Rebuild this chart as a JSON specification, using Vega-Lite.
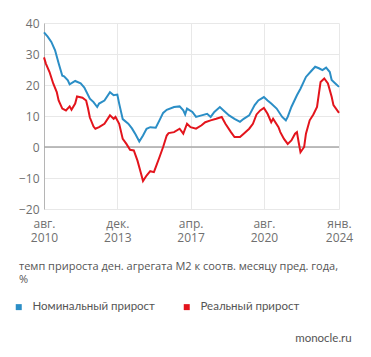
{
  "$schema": "https://vega.github.io/schema/vega-lite/v6.json",
  "autosize": {"type": "none"},
  "width": 295,
  "height": 186,
  "padding": {"left": 44, "top": 23, "right": 32, "bottom": 148},
  "background": "white",
  "config": {
    "font": "Open Sans",
    "view": {"stroke": null},
    "axis": {"labelFont": "Open Sans", "labelColor": "#6f6f6f", "labelFontSize": 12, "gridColor": "#e8e8e8", "gridWidth": 1, "ticks": false, "labelOverlap": false}
  },
  "title": {"text": "monocle.ru", "orient": "bottom", "anchor": "end", "fontSize": 11.5, "fontWeight": "normal", "color": "#555", "font": "Lato", "dx": -1, "offset": 20},
  "datasets": {
    "m2": [
      {"date": "2010-08-01", "series": "Номинальный прирост", "value": 37.0},
      {"date": "2010-10-01", "series": "Номинальный прирост", "value": 35.6},
      {"date": "2010-12-01", "series": "Номинальный прирост", "value": 33.9},
      {"date": "2011-02-01", "series": "Номинальный прирост", "value": 31.2},
      {"date": "2011-04-01", "series": "Номинальный прирост", "value": 27.0},
      {"date": "2011-06-01", "series": "Номинальный прирост", "value": 23.0},
      {"date": "2011-07-01", "series": "Номинальный прирост", "value": 22.8},
      {"date": "2011-09-01", "series": "Номинальный прирост", "value": 21.5},
      {"date": "2011-10-01", "series": "Номинальный прирост", "value": 20.2},
      {"date": "2012-01-01", "series": "Номинальный прирост", "value": 21.3},
      {"date": "2012-04-01", "series": "Номинальный прирост", "value": 20.5},
      {"date": "2012-06-01", "series": "Номинальный прирост", "value": 19.2},
      {"date": "2012-09-01", "series": "Номинальный прирост", "value": 15.6},
      {"date": "2012-11-01", "series": "Номинальный прирост", "value": 14.5},
      {"date": "2013-01-01", "series": "Номинальный прирост", "value": 12.9},
      {"date": "2013-02-01", "series": "Номинальный прирост", "value": 14.0},
      {"date": "2013-05-01", "series": "Номинальный прирост", "value": 15.0},
      {"date": "2013-08-01", "series": "Номинальный прирост", "value": 17.7},
      {"date": "2013-10-01", "series": "Номинальный прирост", "value": 16.7},
      {"date": "2013-12-01", "series": "Номинальный прирост", "value": 16.9},
      {"date": "2014-01-01", "series": "Номинальный прирост", "value": 14.0},
      {"date": "2014-03-01", "series": "Номинальный прирост", "value": 9.0},
      {"date": "2014-06-01", "series": "Номинальный прирост", "value": 7.5},
      {"date": "2014-08-01", "series": "Номинальный прирост", "value": 6.0},
      {"date": "2014-10-01", "series": "Номинальный прирост", "value": 4.0},
      {"date": "2014-12-01", "series": "Номинальный прирост", "value": 1.8},
      {"date": "2015-02-01", "series": "Номинальный прирост", "value": 3.7},
      {"date": "2015-04-01", "series": "Номинальный прирост", "value": 5.9},
      {"date": "2015-06-01", "series": "Номинальный прирост", "value": 6.4},
      {"date": "2015-09-01", "series": "Номинальный прирост", "value": 6.2},
      {"date": "2015-11-01", "series": "Номинальный прирост", "value": 8.6},
      {"date": "2016-01-01", "series": "Номинальный прирост", "value": 11.0},
      {"date": "2016-03-01", "series": "Номинальный прирост", "value": 12.0},
      {"date": "2016-07-01", "series": "Номинальный прирост", "value": 12.9},
      {"date": "2016-10-01", "series": "Номинальный прирост", "value": 13.1},
      {"date": "2016-12-01", "series": "Номинальный прирост", "value": 11.8},
      {"date": "2017-01-01", "series": "Номинальный прирост", "value": 10.5},
      {"date": "2017-02-01", "series": "Номинальный прирост", "value": 12.4},
      {"date": "2017-05-01", "series": "Номинальный прирост", "value": 11.3},
      {"date": "2017-07-01", "series": "Номинальный прирост", "value": 9.7},
      {"date": "2017-10-01", "series": "Номинальный прирост", "value": 10.2},
      {"date": "2018-01-01", "series": "Номинальный прирост", "value": 10.7},
      {"date": "2018-03-01", "series": "Номинальный прирост", "value": 9.7},
      {"date": "2018-05-01", "series": "Номинальный прирост", "value": 11.3},
      {"date": "2018-08-01", "series": "Номинальный прирост", "value": 12.9},
      {"date": "2018-10-01", "series": "Номинальный прирост", "value": 11.8},
      {"date": "2019-01-01", "series": "Номинальный прирост", "value": 10.2},
      {"date": "2019-04-01", "series": "Номинальный прирост", "value": 9.1},
      {"date": "2019-07-01", "series": "Номинальный прирост", "value": 8.1},
      {"date": "2019-09-01", "series": "Номинальный прирост", "value": 9.1},
      {"date": "2019-12-01", "series": "Номинальный прирост", "value": 10.2},
      {"date": "2020-03-01", "series": "Номинальный прирост", "value": 13.5},
      {"date": "2020-05-01", "series": "Номинальный прирост", "value": 15.0},
      {"date": "2020-08-01", "series": "Номинальный прирост", "value": 16.1},
      {"date": "2020-10-01", "series": "Номинальный прирост", "value": 15.0},
      {"date": "2020-12-01", "series": "Номинальный прирост", "value": 14.0},
      {"date": "2021-03-01", "series": "Номинальный прирост", "value": 12.4},
      {"date": "2021-06-01", "series": "Номинальный прирост", "value": 9.7},
      {"date": "2021-08-01", "series": "Номинальный прирост", "value": 8.6},
      {"date": "2021-09-01", "series": "Номинальный прирост", "value": 9.7},
      {"date": "2021-11-01", "series": "Номинальный прирост", "value": 12.9},
      {"date": "2022-02-01", "series": "Номинальный прирост", "value": 16.7},
      {"date": "2022-04-01", "series": "Номинальный прирост", "value": 18.8},
      {"date": "2022-07-01", "series": "Номинальный прирост", "value": 22.6},
      {"date": "2022-10-01", "series": "Номинальный прирост", "value": 24.6},
      {"date": "2022-12-01", "series": "Номинальный прирост", "value": 25.9},
      {"date": "2023-02-01", "series": "Номинальный прирост", "value": 25.4},
      {"date": "2023-04-01", "series": "Номинальный прирост", "value": 24.8},
      {"date": "2023-06-01", "series": "Номинальный прирост", "value": 25.6},
      {"date": "2023-08-01", "series": "Номинальный прирост", "value": 24.2},
      {"date": "2023-09-01", "series": "Номинальный прирост", "value": 21.6},
      {"date": "2023-11-01", "series": "Номинальный прирост", "value": 20.5},
      {"date": "2024-01-01", "series": "Номинальный прирост", "value": 19.4},
      {"date": "2010-08-01", "series": "Реальный прирост", "value": 28.9},
      {"date": "2010-09-01", "series": "Реальный прирост", "value": 26.9},
      {"date": "2010-11-01", "series": "Реальный прирост", "value": 24.2},
      {"date": "2011-01-01", "series": "Реальный прирост", "value": 20.5},
      {"date": "2011-03-01", "series": "Реальный прирост", "value": 17.7},
      {"date": "2011-04-01", "series": "Реальный прирост", "value": 15.0},
      {"date": "2011-06-01", "series": "Реальный прирост", "value": 12.4},
      {"date": "2011-08-01", "series": "Реальный прирост", "value": 11.8},
      {"date": "2011-10-01", "series": "Реальный прирост", "value": 13.1},
      {"date": "2011-11-01", "series": "Реальный прирост", "value": 12.0},
      {"date": "2012-01-01", "series": "Реальный прирост", "value": 14.0},
      {"date": "2012-02-01", "series": "Реальный прирост", "value": 16.3},
      {"date": "2012-05-01", "series": "Реальный прирост", "value": 15.9},
      {"date": "2012-07-01", "series": "Реальный прирост", "value": 15.0},
      {"date": "2012-08-01", "series": "Реальный прирост", "value": 12.5},
      {"date": "2012-09-01", "series": "Реальный прирост", "value": 9.5},
      {"date": "2012-11-01", "series": "Реальный прирост", "value": 6.6},
      {"date": "2012-12-01", "series": "Реальный прирост", "value": 5.9},
      {"date": "2013-02-01", "series": "Реальный прирост", "value": 6.4},
      {"date": "2013-05-01", "series": "Реальный прирост", "value": 7.5},
      {"date": "2013-08-01", "series": "Реальный прирост", "value": 10.2},
      {"date": "2013-10-01", "series": "Реальный прирост", "value": 9.1},
      {"date": "2013-11-01", "series": "Реальный прирост", "value": 9.7},
      {"date": "2014-01-01", "series": "Реальный прирост", "value": 7.5},
      {"date": "2014-03-01", "series": "Реальный прирост", "value": 2.6},
      {"date": "2014-05-01", "series": "Реальный прирост", "value": 1.0},
      {"date": "2014-07-01", "series": "Реальный прирост", "value": -0.9},
      {"date": "2014-09-01", "series": "Реальный прирост", "value": -1.1},
      {"date": "2014-11-01", "series": "Реальный прирост", "value": -4.4},
      {"date": "2015-01-01", "series": "Реальный прирост", "value": -8.7},
      {"date": "2015-02-01", "series": "Реальный прирост", "value": -11.0},
      {"date": "2015-04-01", "series": "Реальный прирост", "value": -9.2},
      {"date": "2015-06-01", "series": "Реальный прирост", "value": -7.8},
      {"date": "2015-08-01", "series": "Реальный прирост", "value": -8.1},
      {"date": "2015-09-01", "series": "Реальный прирост", "value": -6.5},
      {"date": "2015-11-01", "series": "Реальный прирост", "value": -3.3},
      {"date": "2016-01-01", "series": "Реальный прирост", "value": 0.0},
      {"date": "2016-03-01", "series": "Реальный прирост", "value": 3.7},
      {"date": "2016-04-01", "series": "Реальный прирост", "value": 4.5},
      {"date": "2016-07-01", "series": "Реальный прирост", "value": 4.8},
      {"date": "2016-10-01", "series": "Реальный прирост", "value": 5.9},
      {"date": "2016-12-01", "series": "Реальный прирост", "value": 4.3},
      {"date": "2017-02-01", "series": "Реальный прирост", "value": 7.5},
      {"date": "2017-04-01", "series": "Реальный прирост", "value": 6.4},
      {"date": "2017-07-01", "series": "Реальный прирост", "value": 5.9},
      {"date": "2017-10-01", "series": "Реальный прирост", "value": 7.0},
      {"date": "2017-12-01", "series": "Реальный прирост", "value": 8.0},
      {"date": "2018-03-01", "series": "Реальный прирост", "value": 8.6},
      {"date": "2018-06-01", "series": "Реальный прирост", "value": 9.1},
      {"date": "2018-09-01", "series": "Реальный прирост", "value": 9.7},
      {"date": "2018-11-01", "series": "Реальный прирост", "value": 7.5},
      {"date": "2019-02-01", "series": "Реальный прирост", "value": 4.8},
      {"date": "2019-04-01", "series": "Реальный прирост", "value": 3.2},
      {"date": "2019-07-01", "series": "Реальный прирост", "value": 3.2},
      {"date": "2019-09-01", "series": "Реальный прирост", "value": 4.3},
      {"date": "2019-12-01", "series": "Реальный прирост", "value": 5.9},
      {"date": "2020-02-01", "series": "Реальный прирост", "value": 7.5},
      {"date": "2020-04-01", "series": "Реальный прирост", "value": 10.5},
      {"date": "2020-06-01", "series": "Реальный прирост", "value": 11.8},
      {"date": "2020-08-01", "series": "Реальный прирост", "value": 12.6},
      {"date": "2020-10-01", "series": "Реальный прирост", "value": 10.7},
      {"date": "2020-12-01", "series": "Реальный прирост", "value": 8.0},
      {"date": "2021-01-01", "series": "Реальный прирост", "value": 9.1},
      {"date": "2021-04-01", "series": "Реальный прирост", "value": 6.4},
      {"date": "2021-05-01", "series": "Реальный прирост", "value": 4.8},
      {"date": "2021-07-01", "series": "Реальный прирост", "value": 2.6},
      {"date": "2021-09-01", "series": "Реальный прирост", "value": 1.0},
      {"date": "2021-11-01", "series": "Реальный прирост", "value": 2.1},
      {"date": "2022-01-01", "series": "Реальный прирост", "value": 4.3},
      {"date": "2022-02-01", "series": "Реальный прирост", "value": 4.8},
      {"date": "2022-03-01", "series": "Реальный прирост", "value": 1.6},
      {"date": "2022-04-01", "series": "Реальный прирост", "value": -1.7},
      {"date": "2022-06-01", "series": "Реальный прирост", "value": 0.0},
      {"date": "2022-07-01", "series": "Реальный прирост", "value": 4.3},
      {"date": "2022-09-01", "series": "Реальный прирост", "value": 8.6},
      {"date": "2022-11-01", "series": "Реальный прирост", "value": 10.5},
      {"date": "2023-01-01", "series": "Реальный прирост", "value": 12.9},
      {"date": "2023-02-01", "series": "Реальный прирост", "value": 17.2},
      {"date": "2023-03-01", "series": "Реальный прирост", "value": 21.0},
      {"date": "2023-05-01", "series": "Реальный прирост", "value": 22.1},
      {"date": "2023-07-01", "series": "Реальный прирост", "value": 20.5},
      {"date": "2023-09-01", "series": "Реальный прирост", "value": 16.2},
      {"date": "2023-10-01", "series": "Реальный прирост", "value": 13.5},
      {"date": "2024-01-01", "series": "Реальный прирост", "value": 11.0}
    ],
    "zero": [{"y": 0}]
  },
  "layer": [
    {
      "data": {"name": "zero"},
      "mark": {"type": "rule", "color": "#a8a8a8", "strokeWidth": 1.5},
      "encoding": {
        "y": {
          "field": "y", "type": "quantitative",
          "scale": {"domain": [-20, 40], "nice": false},
          "axis": {"title": null, "values": [-20, -10, 0, 10, 20, 30, 40], "tickCount": 7, "domain": true, "domainColor": "#b5b5b5", "labelPadding": 5, "labelOverlap": false}
        }
      }
    },
    {
      "data": {"name": "m2"},
      "mark": {"type": "line", "strokeWidth": 2, "interpolate": "linear"},
      "encoding": {
        "x": {
          "field": "date", "type": "temporal",
          "scale": {"type": "utc", "domain": [{"year": 2010, "month": 8, "date": 1, "utc": true}, {"year": 2024, "month": 1, "date": 1, "utc": true}]},
          "axis": {
            "title": null, "domain": false, "grid": true,
            "values": [
              {"year": 2010, "month": 8, "date": 1, "utc": true},
              {"year": 2013, "month": 12, "date": 1, "utc": true},
              {"year": 2017, "month": 4, "date": 1, "utc": true},
              {"year": 2020, "month": 8, "date": 1, "utc": true},
              {"year": 2024, "month": 1, "date": 1, "utc": true}
            ],
            "labelExpr": "[['янв.','февр.','март','апр.','май','июнь','июль','авг.','сент.','окт.','нояб.','дек.'][utcmonth(datum.value)], '' + utcyear(datum.value)]",
            "labelPadding": 9, "labelLineHeight": 14, "labelFlush": false
          }
        },
        "y": {
          "field": "value", "type": "quantitative",
          "scale": {"domain": [-20, 40], "nice": false},
          "axis": {"title": null, "values": [-20, -10, 0, 10, 20, 30, 40], "tickCount": 7, "domain": true, "domainColor": "#b5b5b5", "labelPadding": 5, "labelOverlap": false}
        },
        "color": {
          "field": "series", "type": "nominal",
          "scale": {"domain": ["Номинальный прирост", "Реальный прирост"], "range": ["#2b8ec6", "#e3141c"]},
          "legend": {
            "orient": "none", "legendX": -25, "legendY": 238,
            "direction": "horizontal",
            "title": ["темп прироста ден. агрегата М2 к соотв. месяцу пред. года,", "%"],
            "titleFont": "Open Sans", "titleFontSize": 11, "titleFontWeight": "normal", "titleColor": "#555",
            "titleLimit": 400, "titlePadding": 16, "titleLineHeight": 13,
            "symbolType": "square", "symbolSize": 36, "symbolStrokeWidth": 0, "symbolOffset": -6,
            "labelFont": "Lato", "labelFontSize": 11.5, "labelColor": "#555", "labelLimit": 300,
            "columnPadding": 28, "labelOffset": 8,
            "encode": {"symbols": {"update": {"fill": {"scale": "color", "field": "value"}, "fillOpacity": {"value": 1}}}}
          }
        }
      }
    }
  ]
}
